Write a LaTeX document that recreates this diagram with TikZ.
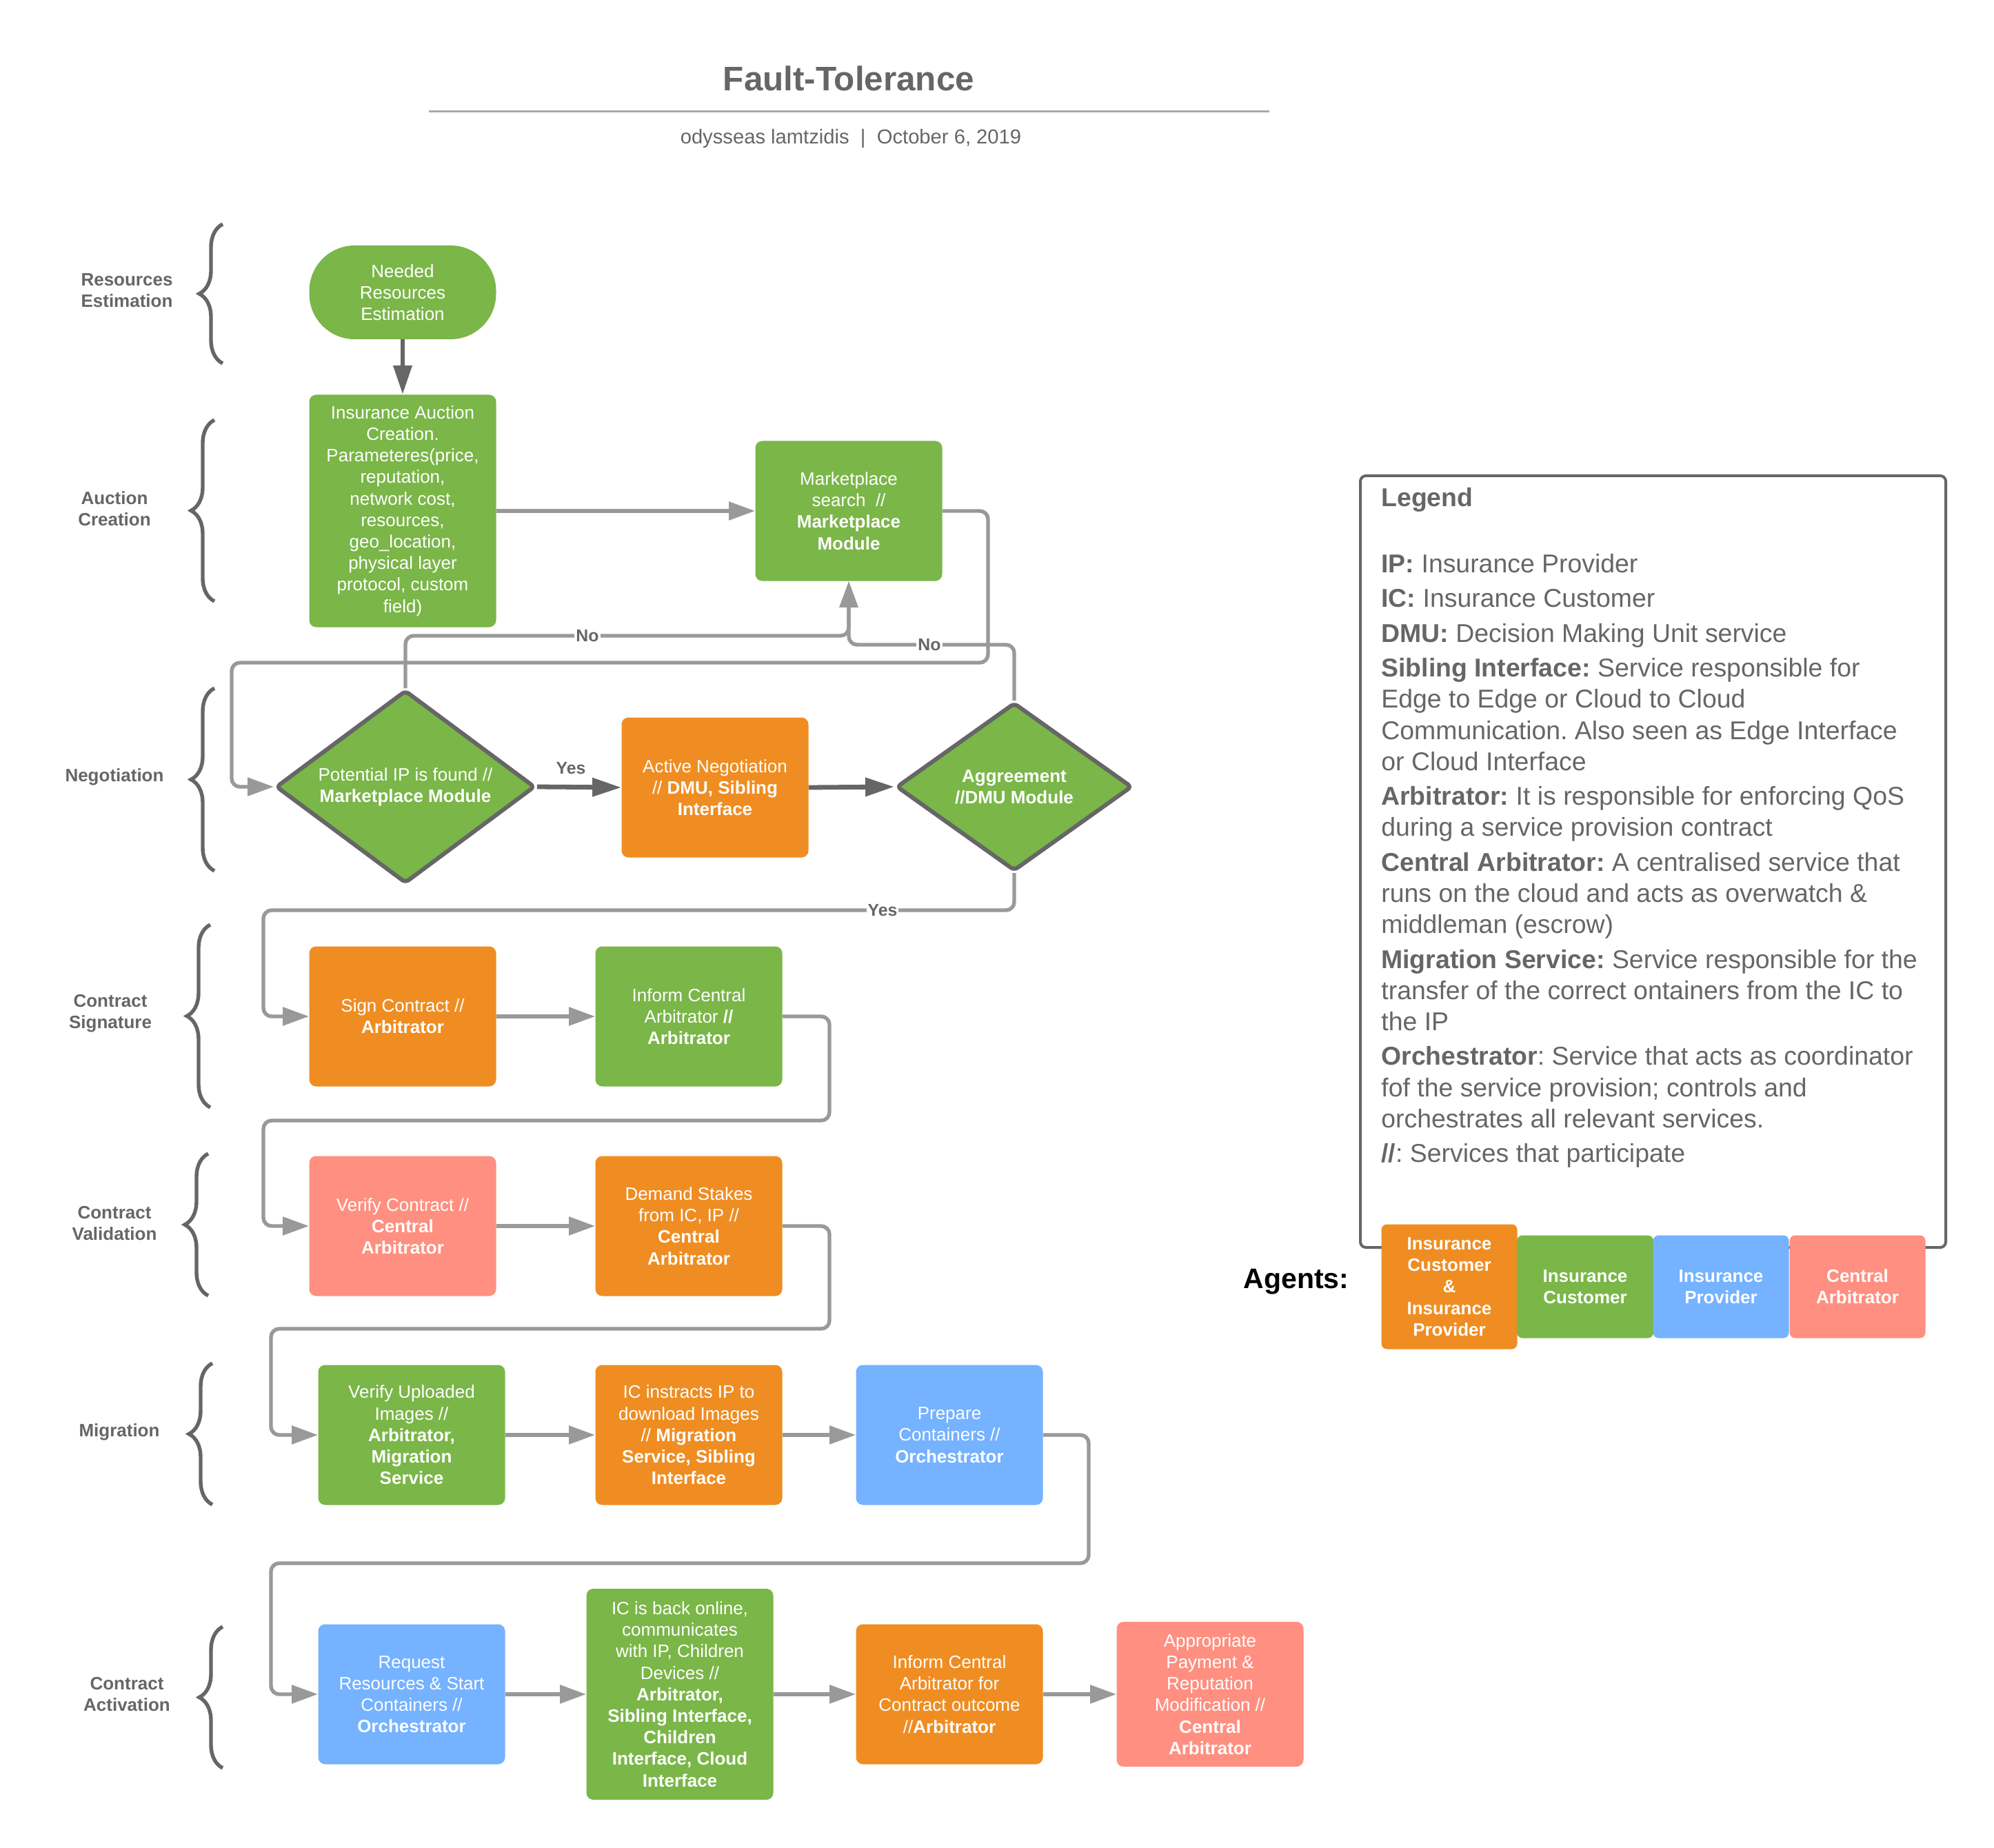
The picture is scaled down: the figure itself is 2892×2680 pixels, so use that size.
\documentclass[tikz,border=0pt]{standalone}
\usepackage{fontspec}
\setmainfont{Liberation Sans}
\usetikzlibrary{shapes.geometric,arrows.meta,decorations.pathreplacing}
\definecolor{cgreen}{HTML}{7AB648}
\definecolor{corange}{HTML}{EF8D22}
\definecolor{cblue}{HTML}{75B2FF}
\definecolor{csalmon}{HTML}{FF8F80}
\definecolor{cgray}{HTML}{999999}
\definecolor{cdark}{HTML}{666666}
\definecolor{cline}{HTML}{AAAAAA}
\frenchspacing
\begin{document}
\begin{tikzpicture}[x=0.5pt,y=-0.5pt,
  pbox/.style={rectangle, rounded corners=5pt, text=white, align=center,
    font=\fontsize{13}{15.6}\selectfont, minimum width=135.5pt, minimum height=101.5pt, inner sep=0pt},
  gbox/.style={pbox, fill=cgreen},
  obox/.style={pbox, fill=corange},
  bbox/.style={pbox, fill=cblue},
  rbox/.style={pbox, fill=csalmon},
  dec/.style={diamond, fill=cgreen, draw=cdark, line width=3pt, text=white, align=center,
    font=\fontsize{13}{15.6}\selectfont, inner sep=0pt, rounded corners=3pt},
  conn/.style={draw=cgray, line width=2.7pt, rounded corners=6pt, -{Triangle[length=19pt,width=13pt]}},
  dconn/.style={draw=cdark, line width=3.4pt, -{Triangle[length=21pt,width=13pt]}},
  lbl/.style={font=\bfseries\fontsize{12.4}{14}\selectfont, text=cdark, inner sep=1pt},
  sec/.style={font=\bfseries\fontsize{13}{15.6}\selectfont, text=cdark, align=center, inner sep=0pt},
  secbrace/.style={decorate, decoration={brace, amplitude=17pt}, draw=cdark, line width=2.7pt},
  agent/.style={rectangle, rounded corners=4pt, text=white, align=center,
    font=\bfseries\fontsize{13}{15.6}\selectfont, minimum width=98.5pt, minimum height=74.5pt, inner sep=0pt}
]
\fill[white] (0,0) rectangle (2892,2680);
\useasboundingbox (0,0) rectangle (2892,2680);

% title
\node[font=\bfseries\fontsize{24.7}{28}\selectfont, text=cdark] (title) at (1231,114) {Fault-Tolerance};
\draw[draw=cline, line width=1.5pt] (622,162) -- (1841,162);
\node[font=\fontsize{14.6}{17}\selectfont, text=cdark] (sub) at (1234,201) {odysseas lamtzidis\ \ |\ \ October 6, 2019};

% section labels
\node[sec] (sRE) at (184,421) {Resources\\Estimation};
\node[sec] (sAC) at (166,738) {Auction\\Creation};
\node[sec] (sNE) at (166,1127) {Negotiation};
\node[sec] (sCS) at (160,1470) {Contract\\Signature};
\node[sec] (sCV) at (166,1774) {Contract\\Validation};
\node[sec] (sMI) at (173,2077) {Migration};
\node[sec] (sCA) at (184,2457) {Contract\\Activation};

% braces
\draw[secbrace] (323,527) -- (323,325);
\draw[secbrace] (311,872) -- (311,609);
\draw[secbrace] (311,1263) -- (311,998);
\draw[secbrace] (305,1606) -- (305,1341);
\draw[secbrace] (302,1879) -- (302,1673);
\draw[secbrace] (308,2182) -- (308,1977);
\draw[secbrace] (323,2564) -- (323,2359);

% flow nodes
\node[gbox, minimum height=68pt, rounded corners=33pt] (needed) at (584,424) {Needed\\Resources\\Estimation};
\node[gbox, minimum height=168.5pt] (auction) at (584,741) {Insurance Auction\\Creation.\\Parameteres(price,\\reputation,\\network cost,\\resources,\\geo\_location,\\physical layer\\protocol, custom\\field)};
\node[gbox] (mkt) at (1231,741) {Marketplace\\search\ \ //\\\textbf{Marketplace}\\\textbf{Module}};
\node[dec, aspect=1.344, minimum width=188pt, minimum height=140pt] (d1) at (588,1141) {Potential IP is found //\\\textbf{Marketplace Module}};
\node[obox] (act) at (1037,1142) {Active Negotiation\\// \textbf{DMU, Sibling}\\\textbf{Interface}};
\node[dec, aspect=1.41, minimum width=171pt, minimum height=122pt] (d2) at (1471,1141) {\textbf{Aggreement}\\\textbf{//DMU Module}};

\node[obox] (sign) at (584,1474) {Sign Contract //\\\textbf{Arbitrator}};
\node[gbox] (infca) at (999,1474) {Inform Central\\Arbitrator \textbf{//}\\\textbf{Arbitrator}};
\node[rbox] (vercon) at (584,1778) {Verify Contract //\\\textbf{Central}\\\textbf{Arbitrator}};
\node[obox] (demand) at (999,1778) {Demand Stakes\\from IC, IP //\\\textbf{Central}\\\textbf{Arbitrator}};

\node[gbox] (verup) at (597,2081) {Verify Uploaded\\Images //\\\textbf{Arbitrator,}\\\textbf{Migration}\\\textbf{Service}};
\node[obox] (icinst) at (999,2081) {IC instracts IP to\\download Images\\// \textbf{Migration}\\\textbf{Service, Sibling}\\\textbf{Interface}};
\node[bbox] (prep) at (1377,2081) {Prepare\\Containers //\\\textbf{Orchestrator}};

\node[bbox] (req) at (597,2457) {Request\\Resources \& Start\\Containers //\\\textbf{Orchestrator}};
\node[gbox, minimum height=153pt] (icback) at (986,2457) {IC is back online,\\communicates\\with IP, Children\\Devices //\\\textbf{Arbitrator,}\\\textbf{Sibling Interface,}\\\textbf{Children}\\\textbf{Interface, Cloud}\\\textbf{Interface}};
\node[obox] (infout) at (1377,2457) {Inform Central\\Arbitrator for\\Contract outcome\\//\textbf{Arbitrator}};
\node[rbox, minimum height=105pt] (pay) at (1755,2457) {Appropriate\\Payment \&\\Reputation\\Modification //\\\textbf{Central}\\\textbf{Arbitrator}};

% connectors
\draw[dconn] (needed.south) -- (auction.north);
\draw[conn] (auction.east) -- (mkt.west);
\draw[conn] (mkt.east) -| (1433,961) -- (336,961) |- (d1.west);
\draw[conn] (d1.north) -- (588,922) -| (mkt.south);
\draw[conn] (d2.north) -- (1471,935) -| (mkt.south);
\draw[dconn] (d1.east) -- (act.west);
\draw[dconn] (act.east) -- (d2.west);
\draw[conn] (d2.south) |- (382,1320) |- (sign.west);
\draw[conn] (sign.east) -- (infca.west);
\draw[conn] (infca.east) -| (1203,1625) -- (382,1625) |- (vercon.west);
\draw[conn] (vercon.east) -- (demand.west);
\draw[conn] (demand.east) -| (1203,1927) -- (393,1927) |- (verup.west);
\draw[conn] (verup.east) -- (icinst.west);
\draw[conn] (icinst.east) -- (prep.west);
\draw[conn] (prep.east) -| (1579,2267) -- (393,2267) |- (req.west);
\draw[conn] (req.east) -- (icback.west);
\draw[conn] (icback.east) -- (infout.west);
\draw[conn] (infout.east) -- (pay.west);

% connector labels
\node[lbl, fill=white] (no1) at (852,922) {No};
\node[lbl, fill=white] (no2) at (1348,935) {No};
\node[lbl] (yes1) at (828,1114) {Yes};
\node[lbl, fill=white] (yes2) at (1280,1320) {Yes};

% legend
\draw[draw=cdark, line width=2pt, rounded corners=4pt] (1973,690) rectangle (2822,1809);
\node[anchor=north west, inner sep=0pt, align=left, text=cdark,
  font=\fontsize{18.7}{22.6}\selectfont] (legend) at (2003,707) {%
\textbf{Legend}\\[25.4pt]
\textbf{IP:} Insurance Provider\\[2.6pt]
\textbf{IC:} Insurance Customer\\[2.6pt]
\textbf{DMU:} Decision Making Unit service\\[2.6pt]
\textbf{Sibling Interface:} Service responsible for\\
Edge to Edge or Cloud to Cloud\\
Communication. Also seen as Edge Interface\\
or Cloud Interface\\[2.6pt]
\textbf{Arbitrator:} It is responsible for enforcing QoS\\
during a service provision contract\\[2.6pt]
\textbf{Central Arbitrator:} A centralised service that\\
runs on the cloud and acts as overwatch \&\\
middleman (escrow)\\[2.6pt]
\textbf{Migration Service:} Service responsible for the\\
transfer of the correct ontainers from the IC to\\
the IP\\[2.6pt]
\textbf{Orchestrator}: Service that acts as coordinator\\
fof the service provision; controls and\\
orchestrates all relevant services.\\[2.6pt]
\textbf{//}: Services that participate};

% agents
\node[font=\bfseries\fontsize{20.5}{24}\selectfont, text=black] (agents) at (1880,1859) {Agents:};
\node[agent, fill=corange, minimum height=90.5pt] (ag1) at (2102,1866) {Insurance\\Customer\\\&\\Insurance\\Provider};
\node[agent, fill=cgreen, minimum width=99pt] (ag2) at (2299,1866) {Insurance\\Customer};
\node[agent, fill=cblue] (ag3) at (2496,1866) {Insurance\\Provider};
\node[agent, fill=csalmon] (ag4) at (2694,1866) {Central\\Arbitrator};
\end{tikzpicture}
\end{document}
